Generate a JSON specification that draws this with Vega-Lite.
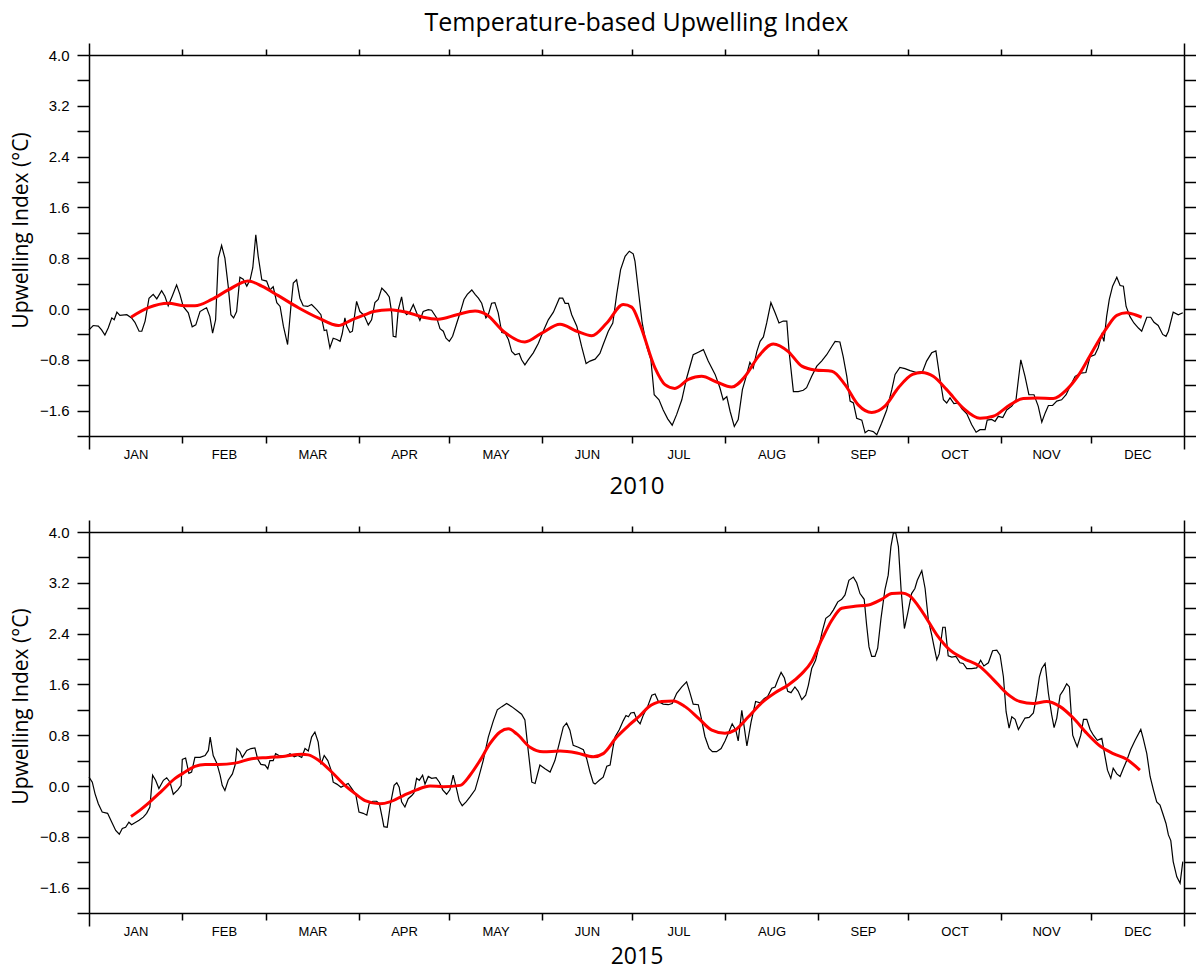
{
"$schema": "https://vega.github.io/schema/vega-lite/v6.json",
"background": "white",
"padding": {"left": 10, "top": 11, "right": 0, "bottom": 0},
"datasets": {
"raw2010": [{"d":0,"v":-0.33},{"d":1.4,"v":-0.26},{"d":3.1,"v":-0.27},{"d":4.2,"v":-0.33},{"d":5.3,"v":-0.41},{"d":6.4,"v":-0.3},{"d":7.6,"v":-0.14},{"d":8.4,"v":-0.17},{"d":9.3,"v":-0.05},{"d":10.3,"v":-0.1},{"d":12.6,"v":-0.09},{"d":14.2,"v":-0.14},{"d":15.3,"v":-0.21},{"d":16.7,"v":-0.35},{"d":17.6,"v":-0.35},{"d":18.7,"v":-0.19},{"d":20,"v":0.17},{"d":21.4,"v":0.23},{"d":22.6,"v":0.16},{"d":24.2,"v":0.29},{"d":25.3,"v":0.2},{"d":26.4,"v":0.05},{"d":27.8,"v":0.21},{"d":29.2,"v":0.38},{"d":30.3,"v":0.23},{"d":31.4,"v":0.04},{"d":33.1,"v":-0.06},{"d":34.4,"v":-0.28},{"d":35.6,"v":-0.25},{"d":37,"v":-0.04},{"d":38.4,"v":0},{"d":39.2,"v":0.02},{"d":40.3,"v":-0.12},{"d":41.2,"v":-0.38},{"d":42.2,"v":-0.17},{"d":43.1,"v":0.8},{"d":44.2,"v":1.0},{"d":45.3,"v":0.8},{"d":46.4,"v":0.36},{"d":47.3,"v":-0.09},{"d":48.2,"v":-0.14},{"d":49.2,"v":-0.04},{"d":50.3,"v":0.5},{"d":51.4,"v":0.47},{"d":52.6,"v":0.36},{"d":53.7,"v":0.46},{"d":54.6,"v":0.65},{"d":55.6,"v":1.17},{"d":56.4,"v":0.83},{"d":57.6,"v":0.46},{"d":59.2,"v":0.44},{"d":60.3,"v":0.3},{"d":61.4,"v":0.35},{"d":62.6,"v":0.1},{"d":63.7,"v":0.04},{"d":64.8,"v":-0.27},{"d":66.2,"v":-0.56},{"d":67.3,"v":0.04},{"d":68.1,"v":0.41},{"d":69.2,"v":0.46},{"d":70.3,"v":0.17},{"d":71.4,"v":0.05},{"d":72.9,"v":0.04},{"d":74.2,"v":0.07},{"d":75.9,"v":-0.01},{"d":77.3,"v":-0.09},{"d":78.4,"v":-0.34},{"d":79.2,"v":-0.33},{"d":80.3,"v":-0.61},{"d":81.4,"v":-0.46},{"d":82.6,"v":-0.48},{"d":83.7,"v":-0.51},{"d":84.4,"v":-0.39},{"d":85.3,"v":-0.14},{"d":85.9,"v":-0.27},{"d":87,"v":-0.37},{"d":87.8,"v":-0.35},{"d":89.2,"v":0.12},{"d":90.3,"v":-0.04},{"d":91.7,"v":-0.1},{"d":93.1,"v":-0.25},{"d":94.2,"v":-0.17},{"d":95.3,"v":0.1},{"d":96.4,"v":0.15},{"d":97.6,"v":0.33},{"d":99,"v":0.26},{"d":100.1,"v":0.19},{"d":100.9,"v":-0.06},{"d":101.4,"v":-0.43},{"d":102.3,"v":-0.44},{"d":103.1,"v":-0.01},{"d":104.2,"v":0.19},{"d":105,"v":-0.04},{"d":105.9,"v":-0.09},{"d":107,"v":-0.04},{"d":108.1,"v":0.07},{"d":109.2,"v":-0.06},{"d":110.3,"v":-0.18},{"d":111.4,"v":-0.04},{"d":113.1,"v":-0.01},{"d":114.2,"v":-0.02},{"d":115.9,"v":-0.14},{"d":117,"v":-0.31},{"d":118.1,"v":-0.35},{"d":119,"v":-0.46},{"d":120.1,"v":-0.51},{"d":121.2,"v":-0.43},{"d":122.6,"v":-0.22},{"d":123.7,"v":-0.06},{"d":125,"v":0.15},{"d":126.1,"v":0.23},{"d":127.6,"v":0.3},{"d":128.7,"v":0.23},{"d":129.8,"v":0.17},{"d":130.9,"v":0.09},{"d":132.3,"v":-0.14},{"d":133.1,"v":-0.09},{"d":134.2,"v":0.09},{"d":135.3,"v":0.1},{"d":136.4,"v":-0.06},{"d":137.6,"v":-0.37},{"d":138.7,"v":-0.38},{"d":139.8,"v":-0.48},{"d":140.9,"v":-0.67},{"d":142,"v":-0.72},{"d":143.4,"v":-0.7},{"d":144.2,"v":-0.8},{"d":145.3,"v":-0.88},{"d":146.4,"v":-0.8},{"d":148.1,"v":-0.69},{"d":149.8,"v":-0.54},{"d":151.4,"v":-0.35},{"d":153.1,"v":-0.17},{"d":154.8,"v":-0.05},{"d":155.9,"v":0.07},{"d":156.8,"v":0.17},{"d":157.9,"v":0.17},{"d":158.7,"v":0.09},{"d":159.8,"v":0.09},{"d":160.9,"v":-0.09},{"d":162.6,"v":-0.27},{"d":164.2,"v":-0.59},{"d":165.7,"v":-0.86},{"d":167,"v":-0.82},{"d":168.7,"v":-0.79},{"d":170.3,"v":-0.7},{"d":171.4,"v":-0.56},{"d":173.1,"v":-0.35},{"d":174.6,"v":-0.22},{"d":175.9,"v":0.23},{"d":177.2,"v":0.62},{"d":178.7,"v":0.83},{"d":180.1,"v":0.91},{"d":181.4,"v":0.87},{"d":182,"v":0.75},{"d":183.1,"v":0.3},{"d":184.4,"v":-0.22},{"d":185.9,"v":-0.59},{"d":187.3,"v":-0.8},{"d":188.4,"v":-1.35},{"d":190,"v":-1.43},{"d":191.4,"v":-1.59},{"d":192.9,"v":-1.73},{"d":194.4,"v":-1.83},{"d":195.9,"v":-1.66},{"d":197.6,"v":-1.43},{"d":199.2,"v":-1.09},{"d":201.4,"v":-0.72},{"d":203.1,"v":-0.68},{"d":204.8,"v":-0.64},{"d":206.4,"v":-0.82},{"d":208.7,"v":-1.03},{"d":210.3,"v":-1.24},{"d":211.4,"v":-1.43},{"d":212.6,"v":-1.38},{"d":213.7,"v":-1.61},{"d":215.1,"v":-1.85},{"d":216.4,"v":-1.74},{"d":217.8,"v":-1.27},{"d":218.9,"v":-1.09},{"d":220.3,"v":-0.84},{"d":221.4,"v":-0.93},{"d":222.6,"v":-0.67},{"d":223.7,"v":-0.51},{"d":224.8,"v":-0.44},{"d":225.9,"v":-0.22},{"d":227.3,"v":0.1},{"d":228.7,"v":-0.06},{"d":230,"v":-0.22},{"d":231.4,"v":-0.19},{"d":232.6,"v":-0.19},{"d":233.4,"v":-0.69},{"d":234.8,"v":-1.3},{"d":236.4,"v":-1.3},{"d":238.1,"v":-1.28},{"d":239.2,"v":-1.24},{"d":240.9,"v":-1.06},{"d":242.6,"v":-0.9},{"d":244.2,"v":-0.82},{"d":245.9,"v":-0.72},{"d":247.6,"v":-0.59},{"d":248.7,"v":-0.51},{"d":250.3,"v":-0.52},{"d":251.4,"v":-0.75},{"d":252.6,"v":-1.06},{"d":253.7,"v":-1.45},{"d":254.8,"v":-1.48},{"d":255.9,"v":-1.72},{"d":257.6,"v":-1.75},{"d":258.7,"v":-1.95},{"d":259.8,"v":-1.91},{"d":261.4,"v":-1.93},{"d":262.6,"v":-1.98},{"d":264.2,"v":-1.8},{"d":265.9,"v":-1.59},{"d":267.6,"v":-1.27},{"d":268.7,"v":-1.03},{"d":270.3,"v":-0.92},{"d":272,"v":-0.94},{"d":273.7,"v":-0.97},{"d":275.9,"v":-1.0},{"d":277.9,"v":-0.98},{"d":279.2,"v":-0.82},{"d":280.9,"v":-0.69},{"d":282.3,"v":-0.66},{"d":283.7,"v":-1.11},{"d":284.8,"v":-1.43},{"d":285.9,"v":-1.48},{"d":287,"v":-1.4},{"d":288.3,"v":-1.49},{"d":289.8,"v":-1.48},{"d":290.9,"v":-1.57},{"d":292.6,"v":-1.65},{"d":294.2,"v":-1.82},{"d":295.7,"v":-1.94},{"d":297,"v":-1.9},{"d":298.7,"v":-1.9},{"d":299.4,"v":-1.75},{"d":300.9,"v":-1.74},{"d":302,"v":-1.77},{"d":303.1,"v":-1.69},{"d":304.6,"v":-1.71},{"d":305.9,"v":-1.59},{"d":307.6,"v":-1.53},{"d":309,"v":-1.43},{"d":309.8,"v":-1.11},{"d":310.6,"v":-0.8},{"d":312,"v":-1.06},{"d":313.3,"v":-1.35},{"d":315,"v":-1.35},{"d":316.4,"v":-1.53},{"d":317.6,"v":-1.78},{"d":318.7,"v":-1.64},{"d":319.8,"v":-1.52},{"d":321.2,"v":-1.52},{"d":322.6,"v":-1.45},{"d":324.2,"v":-1.43},{"d":325.7,"v":-1.35},{"d":327,"v":-1.22},{"d":328.7,"v":-1.06},{"d":330.6,"v":-1.01},{"d":332.3,"v":-1.0},{"d":333.7,"v":-0.75},{"d":335.3,"v":-0.72},{"d":336.4,"v":-0.61},{"d":337.6,"v":-0.4},{"d":338.3,"v":-0.51},{"d":339.2,"v":-0.12},{"d":340.1,"v":0.15},{"d":341.2,"v":0.36},{"d":342.6,"v":0.5},{"d":343.7,"v":0.37},{"d":344.8,"v":0.36},{"d":345.7,"v":0.04},{"d":347,"v":-0.12},{"d":348.3,"v":-0.22},{"d":349.8,"v":-0.3},{"d":350.9,"v":-0.35},{"d":352.6,"v":-0.13},{"d":353.9,"v":-0.13},{"d":355,"v":-0.21},{"d":356.4,"v":-0.26},{"d":357.9,"v":-0.4},{"d":359,"v":-0.43},{"d":359.8,"v":-0.35},{"d":361.4,"v":-0.05},{"d":363.1,"v":-0.09},{"d":364.6,"v":-0.06}],
"smooth2010": [{"d":14,"v":-0.13},{"d":19.8,"v":0.02},{"d":26.4,"v":0.09},{"d":32,"v":0.05},{"d":35.3,"v":0.05},{"d":40.9,"v":0.15},{"d":46.4,"v":0.3},{"d":53,"v":0.44},{"d":57.6,"v":0.36},{"d":63.1,"v":0.21},{"d":69.8,"v":0.02},{"d":76.4,"v":-0.14},{"d":83.1,"v":-0.26},{"d":87.6,"v":-0.17},{"d":92,"v":-0.09},{"d":94.8,"v":-0.04},{"d":100.3,"v":-0.01},{"d":105.9,"v":-0.05},{"d":111.4,"v":-0.13},{"d":116.4,"v":-0.16},{"d":122.6,"v":-0.09},{"d":128.7,"v":-0.03},{"d":132.6,"v":-0.09},{"d":138.1,"v":-0.35},{"d":145.3,"v":-0.52},{"d":150.9,"v":-0.38},{"d":157,"v":-0.24},{"d":162.6,"v":-0.35},{"d":167.6,"v":-0.42},{"d":172.6,"v":-0.22},{"d":178.1,"v":0.07},{"d":180.9,"v":0.03},{"d":183.7,"v":-0.25},{"d":188.7,"v":-0.93},{"d":192,"v":-1.19},{"d":195.3,"v":-1.25},{"d":199.8,"v":-1.11},{"d":204.2,"v":-1.06},{"d":209.2,"v":-1.15},{"d":214.2,"v":-1.23},{"d":218.7,"v":-1.06},{"d":223.1,"v":-0.75},{"d":228.1,"v":-0.55},{"d":233.1,"v":-0.67},{"d":237.6,"v":-0.9},{"d":242,"v":-0.96},{"d":247.6,"v":-0.98},{"d":252,"v":-1.19},{"d":256.4,"v":-1.51},{"d":260.9,"v":-1.63},{"d":265.3,"v":-1.53},{"d":269.8,"v":-1.24},{"d":274.5,"v":-1.03},{"d":277.6,"v":-1.0},{"d":281.4,"v":-1.06},{"d":285.9,"v":-1.27},{"d":291.4,"v":-1.56},{"d":297,"v":-1.72},{"d":301.4,"v":-1.69},{"d":307,"v":-1.51},{"d":311.4,"v":-1.41},{"d":315.9,"v":-1.4},{"d":321.4,"v":-1.41},{"d":325.9,"v":-1.27},{"d":330.3,"v":-1.01},{"d":334.8,"v":-0.64},{"d":339.2,"v":-0.3},{"d":342.6,"v":-0.1},{"d":345.9,"v":-0.06},{"d":348.7,"v":-0.09},{"d":350.9,"v":-0.13}],
"raw2015": [{"d":0,"v":0.14},{"d":1.1,"v":0.06},{"d":2,"v":-0.12},{"d":3.1,"v":-0.28},{"d":4.4,"v":-0.41},{"d":6.2,"v":-0.43},{"d":7.6,"v":-0.57},{"d":8.9,"v":-0.7},{"d":10.1,"v":-0.76},{"d":11.1,"v":-0.67},{"d":12.2,"v":-0.65},{"d":13.3,"v":-0.57},{"d":14.2,"v":-0.61},{"d":15.3,"v":-0.58},{"d":16.7,"v":-0.54},{"d":18.1,"v":-0.49},{"d":19.2,"v":-0.43},{"d":20.3,"v":-0.33},{"d":21.2,"v":0.17},{"d":22.2,"v":0.09},{"d":23.3,"v":-0.04},{"d":24.8,"v":0.09},{"d":25.9,"v":0.13},{"d":27,"v":0.06},{"d":28.1,"v":-0.13},{"d":29.6,"v":-0.06},{"d":30.7,"v":0.01},{"d":31.1,"v":0.42},{"d":32.2,"v":0.44},{"d":33.3,"v":0.2},{"d":34.2,"v":0.22},{"d":35.3,"v":0.45},{"d":37,"v":0.45},{"d":38.7,"v":0.48},{"d":39.8,"v":0.56},{"d":40.4,"v":0.77},{"d":41.4,"v":0.48},{"d":42.6,"v":0.36},{"d":43.7,"v":0.17},{"d":44.4,"v":0.01},{"d":45.3,"v":-0.07},{"d":46.4,"v":0.09},{"d":47.8,"v":0.19},{"d":48.7,"v":0.33},{"d":49.3,"v":0.59},{"d":50.3,"v":0.54},{"d":51.1,"v":0.45},{"d":52.6,"v":0.56},{"d":54,"v":0.59},{"d":55.3,"v":0.6},{"d":56.2,"v":0.43},{"d":57.3,"v":0.34},{"d":58.7,"v":0.33},{"d":59.6,"v":0.27},{"d":60.3,"v":0.4},{"d":61.4,"v":0.4},{"d":62.2,"v":0.51},{"d":63.3,"v":0.48},{"d":64.8,"v":0.47},{"d":65.9,"v":0.48},{"d":67,"v":0.51},{"d":68.4,"v":0.46},{"d":69.6,"v":0.48},{"d":70.9,"v":0.45},{"d":72,"v":0.59},{"d":73.1,"v":0.55},{"d":74.2,"v":0.77},{"d":75.3,"v":0.85},{"d":76.4,"v":0.69},{"d":77.3,"v":0.34},{"d":78.4,"v":0.48},{"d":79.6,"v":0.4},{"d":80.7,"v":0.25},{"d":81.4,"v":0.06},{"d":82.6,"v":0.03},{"d":84,"v":-0.02},{"d":85.1,"v":0.01},{"d":86.4,"v":0.04},{"d":87.6,"v":-0.04},{"d":88.9,"v":-0.13},{"d":90,"v":-0.41},{"d":91.4,"v":-0.43},{"d":92.6,"v":-0.46},{"d":93.4,"v":-0.28},{"d":94.6,"v":-0.24},{"d":95.9,"v":-0.24},{"d":96.8,"v":-0.28},{"d":97.7,"v":-0.49},{"d":98.3,"v":-0.64},{"d":99.4,"v":-0.65},{"d":100.5,"v":-0.28},{"d":101.7,"v":0.01},{"d":102.6,"v":0.05},{"d":103.4,"v":-0.02},{"d":104.2,"v":-0.25},{"d":105.3,"v":-0.33},{"d":106.4,"v":-0.2},{"d":107.6,"v":-0.15},{"d":108.3,"v":-0.11},{"d":109.2,"v":0.12},{"d":110.1,"v":0.09},{"d":111.2,"v":0.17},{"d":112,"v":0.03},{"d":113.1,"v":0.15},{"d":114.2,"v":0.12},{"d":115.7,"v":0.13},{"d":116.8,"v":0.06},{"d":117.9,"v":-0.06},{"d":119.2,"v":-0.13},{"d":120.3,"v":-0.06},{"d":121.4,"v":0.17},{"d":122.6,"v":-0.06},{"d":123.4,"v":-0.23},{"d":124.4,"v":-0.31},{"d":125.7,"v":-0.25},{"d":127,"v":-0.17},{"d":128.7,"v":-0.06},{"d":130.1,"v":0.17},{"d":131.4,"v":0.4},{"d":133.1,"v":0.77},{"d":134.8,"v":1.03},{"d":136.1,"v":1.2},{"d":137.6,"v":1.25},{"d":139.2,"v":1.3},{"d":140.9,"v":1.25},{"d":142.6,"v":1.19},{"d":144.2,"v":1.13},{"d":145.3,"v":1.04},{"d":146.4,"v":0.56},{"d":147.6,"v":0.06},{"d":148.7,"v":0.04},{"d":150.3,"v":0.33},{"d":152,"v":0.27},{"d":153.7,"v":0.22},{"d":155.3,"v":0.4},{"d":156.8,"v":0.68},{"d":158.1,"v":0.93},{"d":159.2,"v":0.99},{"d":160.3,"v":0.88},{"d":161.4,"v":0.64},{"d":163.1,"v":0.61},{"d":164.8,"v":0.57},{"d":165.9,"v":0.43},{"d":167,"v":0.22},{"d":168.1,"v":0.05},{"d":168.7,"v":0.03},{"d":170.1,"v":0.09},{"d":171.4,"v":0.14},{"d":172.6,"v":0.31},{"d":173.7,"v":0.33},{"d":174.6,"v":0.59},{"d":175.3,"v":0.77},{"d":176.8,"v":0.89},{"d":178.1,"v":1.03},{"d":179,"v":1.11},{"d":179.8,"v":1.09},{"d":180.6,"v":1.15},{"d":181.7,"v":1.16},{"d":182.8,"v":1.03},{"d":183.7,"v":0.98},{"d":184.8,"v":1.12},{"d":186.2,"v":1.25},{"d":187.6,"v":1.43},{"d":188.7,"v":1.45},{"d":189.8,"v":1.33},{"d":191.4,"v":1.29},{"d":193.1,"v":1.28},{"d":194.4,"v":1.3},{"d":195.9,"v":1.46},{"d":197.6,"v":1.56},{"d":199.2,"v":1.64},{"d":200.3,"v":1.47},{"d":201.4,"v":1.29},{"d":203.1,"v":1.28},{"d":204,"v":1.09},{"d":205.3,"v":0.78},{"d":206.7,"v":0.59},{"d":207.8,"v":0.54},{"d":209.2,"v":0.54},{"d":210.7,"v":0.59},{"d":212,"v":0.71},{"d":213.1,"v":0.83},{"d":214.4,"v":0.98},{"d":215.6,"v":0.88},{"d":216.4,"v":0.71},{"d":217.6,"v":1.19},{"d":218.4,"v":0.93},{"d":219.3,"v":0.63},{"d":220.7,"v":1.01},{"d":222.2,"v":1.33},{"d":223.7,"v":1.31},{"d":225.1,"v":1.38},{"d":226.2,"v":1.41},{"d":227.6,"v":1.54},{"d":228.7,"v":1.56},{"d":229.6,"v":1.67},{"d":230.7,"v":1.79},{"d":231.8,"v":1.7},{"d":232.9,"v":1.49},{"d":234,"v":1.47},{"d":235.3,"v":1.56},{"d":236.4,"v":1.49},{"d":237.6,"v":1.36},{"d":238.9,"v":1.43},{"d":239.8,"v":1.59},{"d":240.9,"v":1.85},{"d":242.2,"v":1.98},{"d":243.3,"v":2.19},{"d":244.4,"v":2.43},{"d":245.6,"v":2.64},{"d":247,"v":2.69},{"d":248.1,"v":2.77},{"d":249.6,"v":2.9},{"d":250.9,"v":2.94},{"d":252,"v":3.01},{"d":253.3,"v":3.24},{"d":254.8,"v":3.29},{"d":255.9,"v":3.2},{"d":257,"v":3.03},{"d":258.4,"v":2.94},{"d":259.2,"v":2.54},{"d":260,"v":2.19},{"d":260.9,"v":2.04},{"d":262,"v":2.04},{"d":262.9,"v":2.17},{"d":264,"v":2.64},{"d":265.3,"v":3.09},{"d":266.4,"v":3.32},{"d":267.3,"v":3.77},{"d":268.1,"v":3.98},{"d":268.9,"v":3.99},{"d":269.8,"v":3.77},{"d":270.7,"v":3.09},{"d":271.8,"v":2.48},{"d":272.9,"v":2.72},{"d":274.2,"v":3.03},{"d":275.3,"v":3.11},{"d":276.1,"v":3.24},{"d":277.6,"v":3.39},{"d":278.7,"v":3.11},{"d":279.8,"v":2.61},{"d":280.9,"v":2.38},{"d":281.7,"v":2.19},{"d":282.6,"v":1.99},{"d":283.4,"v":2.08},{"d":284.6,"v":2.5},{"d":285.4,"v":2.5},{"d":286.4,"v":2.05},{"d":287.6,"v":2.03},{"d":289,"v":2.04},{"d":290.3,"v":1.94},{"d":291.4,"v":1.93},{"d":292.6,"v":1.85},{"d":294.2,"v":1.85},{"d":295.9,"v":1.86},{"d":297.2,"v":1.98},{"d":298.3,"v":1.89},{"d":299.8,"v":1.94},{"d":301.2,"v":2.13},{"d":302.6,"v":2.14},{"d":303.7,"v":2.06},{"d":304.8,"v":1.72},{"d":305.7,"v":1.17},{"d":306.7,"v":0.91},{"d":307.6,"v":1.09},{"d":308.7,"v":1.05},{"d":309.8,"v":0.89},{"d":310.9,"v":0.98},{"d":312,"v":1.07},{"d":313.4,"v":1.08},{"d":314.8,"v":1.15},{"d":315.9,"v":1.43},{"d":316.8,"v":1.72},{"d":317.6,"v":1.85},{"d":318.7,"v":1.93},{"d":319.8,"v":1.46},{"d":320.9,"v":1.12},{"d":321.7,"v":0.92},{"d":322.6,"v":1.07},{"d":323.7,"v":1.43},{"d":324.8,"v":1.51},{"d":325.9,"v":1.61},{"d":326.8,"v":1.56},{"d":327.9,"v":0.8},{"d":328.7,"v":0.7},{"d":329.4,"v":0.62},{"d":330.6,"v":0.8},{"d":331.5,"v":1.05},{"d":332.6,"v":1.05},{"d":333.7,"v":0.89},{"d":334.8,"v":0.8},{"d":336.1,"v":0.72},{"d":337.6,"v":0.75},{"d":338.7,"v":0.46},{"d":339.5,"v":0.25},{"d":340.6,"v":0.12},{"d":341.4,"v":0.28},{"d":342.6,"v":0.19},{"d":343.7,"v":0.15},{"d":344.8,"v":0.28},{"d":345.9,"v":0.4},{"d":347.2,"v":0.57},{"d":348.7,"v":0.72},{"d":350.6,"v":0.89},{"d":351.4,"v":0.75},{"d":352.6,"v":0.51},{"d":353.7,"v":0.15},{"d":354.8,"v":-0.06},{"d":355.9,"v":-0.25},{"d":357,"v":-0.3},{"d":357.9,"v":-0.43},{"d":359,"v":-0.59},{"d":359.8,"v":-0.77},{"d":360.6,"v":-0.86},{"d":361.4,"v":-1.19},{"d":362.6,"v":-1.43},{"d":363.7,"v":-1.53},{"d":364.6,"v":-1.19}],
"smooth2015": [{"d":14,"v":-0.48},{"d":17,"v":-0.38},{"d":20.3,"v":-0.25},{"d":24.2,"v":-0.08},{"d":28.7,"v":0.12},{"d":32,"v":0.22},{"d":35.3,"v":0.31},{"d":38.7,"v":0.34},{"d":43.1,"v":0.34},{"d":48.7,"v":0.36},{"d":54.2,"v":0.43},{"d":59.8,"v":0.45},{"d":65.3,"v":0.47},{"d":70.9,"v":0.5},{"d":73.1,"v":0.49},{"d":76.4,"v":0.41},{"d":80.9,"v":0.22},{"d":85.3,"v":0.01},{"d":88.7,"v":-0.12},{"d":92,"v":-0.23},{"d":97,"v":-0.28},{"d":100.3,"v":-0.25},{"d":104.8,"v":-0.15},{"d":109.2,"v":-0.06},{"d":113.7,"v":0},{"d":118.1,"v":-0.01},{"d":123.7,"v":0.01},{"d":127,"v":0.17},{"d":130.3,"v":0.4},{"d":133.7,"v":0.67},{"d":137,"v":0.85},{"d":139.8,"v":0.9},{"d":142.6,"v":0.82},{"d":147,"v":0.61},{"d":151.4,"v":0.54},{"d":157,"v":0.55},{"d":162.6,"v":0.52},{"d":168.1,"v":0.46},{"d":171.4,"v":0.51},{"d":175.9,"v":0.77},{"d":180.3,"v":0.97},{"d":183.7,"v":1.11},{"d":186.4,"v":1.24},{"d":190.9,"v":1.33},{"d":194.8,"v":1.34},{"d":198.7,"v":1.25},{"d":203.1,"v":1.07},{"d":207.6,"v":0.88},{"d":212,"v":0.83},{"d":215.3,"v":0.88},{"d":219.8,"v":1.09},{"d":224.2,"v":1.31},{"d":228.7,"v":1.47},{"d":233.1,"v":1.59},{"d":237.6,"v":1.77},{"d":240.9,"v":1.96},{"d":244.2,"v":2.3},{"d":247.6,"v":2.61},{"d":250.9,"v":2.8},{"d":255.3,"v":2.83},{"d":259.8,"v":2.85},{"d":264.2,"v":2.94},{"d":267.6,"v":3.03},{"d":270.9,"v":3.04},{"d":273.4,"v":3.0},{"d":278.1,"v":2.72},{"d":282.6,"v":2.38},{"d":287,"v":2.14},{"d":291.4,"v":2.01},{"d":297,"v":1.88},{"d":301.4,"v":1.68},{"d":305.9,"v":1.46},{"d":310.3,"v":1.33},{"d":314.8,"v":1.3},{"d":319.2,"v":1.33},{"d":323.7,"v":1.25},{"d":328.1,"v":1.07},{"d":332.6,"v":0.83},{"d":337,"v":0.63},{"d":341.4,"v":0.51},{"d":345.9,"v":0.42},{"d":350.3,"v":0.25}]
},
"spacing": 96,
"bounds": "flush",
"config": {
  "view": {"stroke": null},
  "axis": {"domainColor": "black", "tickColor": "black", "labelColor": "black", "titleColor": "black", "domainWidth": 1.5, "tickWidth": 1.5, "grid": false, "labelFont": "Liberation Sans", "labelFontSize": 15, "titleFont": "Open Sans", "titleFontWeight": "normal"}
},
"vconcat": [
{
  "width": 1095, "height": 381,
  "title": {"text": "Temperature-based Upwelling Index", "anchor": "middle", "frame": "group", "font": "Open Sans", "fontSize": 25, "fontWeight": "normal", "color": "black", "offset": 6},
  "resolve": {"axis": {"x": "independent", "y": "independent"}},
  "layer": [
    {"data": {"name": "raw2010"}, "mark": {"type": "line", "color": "black", "strokeWidth": 1.2},
     "encoding": {
       "x": {"field": "d", "type": "quantitative", "scale": {"domain": [0, 365], "nice": false, "zero": false},
             "axis": {"orient": "bottom", "values": [0,31,59,90,120,151,181,212,243,273,304,334,365], "labels": false, "title": null, "tickSize": {"condition": {"test": "datum.value == 0 || datum.value == 365", "value": 13}, "value": 7}}},
       "y": {"field": "v", "type": "quantitative", "scale": {"domain": [-2, 4], "nice": false, "zero": false},
             "axis": {"orient": "left", "values": [-2,-1.6,-1.2,-0.8,-0.4,0,0.4,0.8,1.2,1.6,2,2.4,2.8,3.2,3.6,4], "tickSize": 12, "labelPadding": 8, "labelExpr": "abs(datum.value/0.8 - round(datum.value/0.8)) < 0.01 ? format(datum.value, '.1f') : ''", "title": "Upwelling Index (°C)", "titleFontSize": 21, "titlePadding": 8, "titleY": 175}}
     }},
    {"data": {"name": "smooth2010"}, "mark": {"type": "line", "color": "#ff0000", "strokeWidth": 3, "interpolate": "monotone"},
     "encoding": {
       "x": {"field": "d", "type": "quantitative",
             "axis": {"orient": "top", "values": [0,31,59,90,120,151,181,212,243,273,304,334,365], "labels": false, "title": null, "tickSize": {"condition": {"test": "datum.value == 0 || datum.value == 365", "value": 12}, "value": 6}}},
       "y": {"field": "v", "type": "quantitative",
             "axis": {"orient": "right", "values": [-2,-1.6,-1.2,-0.8,-0.4,0,0.4,0.8,1.2,1.6,2,2.4,2.8,3.2,3.6,4], "tickSize": 12, "labels": false, "title": null}}
     }},
    {"mark": {"type": "rule", "color": "black", "strokeWidth": 1},
     "encoding": {
       "x": {"datum": 0, "type": "quantitative",
             "axis": {"orient": "bottom", "values": [15.5,45,74.5,105,135.5,166,196.5,227.5,258,288.5,319,349.5], "ticks": false, "domain": false, "labelFontSize": 13, "labelPadding": 12, "labelExpr": "['JAN','FEB','MAR','APR','MAY','JUN','JUL','AUG','SEP','OCT','NOV','DEC'][floor(datum.value/30.44)]", "title": "2010", "titleFontSize": 24, "titlePadding": 13}},
       "x2": {"datum": 365},
       "y": {"datum": 0, "type": "quantitative", "axis": null}
     }},
    {"mark": {"type": "text", "text": "a)", "font": "Open Sans", "fontSize": 24, "align": "center", "baseline": "middle", "color": "black"},
     "encoding": {
       "x": {"datum": 15.3, "type": "quantitative", "axis": null},
       "y": {"datum": 3.5, "type": "quantitative", "axis": null}
     }}
  ]
},
{
  "width": 1095, "height": 381,
  "resolve": {"axis": {"x": "independent", "y": "independent"}},
  "layer": [
    {"data": {"name": "raw2015"}, "mark": {"type": "line", "color": "black", "strokeWidth": 1.2},
     "encoding": {
       "x": {"field": "d", "type": "quantitative", "scale": {"domain": [0, 365], "nice": false, "zero": false},
             "axis": {"orient": "bottom", "values": [0,31,59,90,120,151,181,212,243,273,304,334,365], "labels": false, "title": null, "tickSize": {"condition": {"test": "datum.value == 0 || datum.value == 365", "value": 13}, "value": 7}}},
       "y": {"field": "v", "type": "quantitative", "scale": {"domain": [-2, 4], "nice": false, "zero": false},
             "axis": {"orient": "left", "values": [-2,-1.6,-1.2,-0.8,-0.4,0,0.4,0.8,1.2,1.6,2,2.4,2.8,3.2,3.6,4], "tickSize": 12, "labelPadding": 8, "labelExpr": "abs(datum.value/0.8 - round(datum.value/0.8)) < 0.01 ? format(datum.value, '.1f') : ''", "title": "Upwelling Index (°C)", "titleFontSize": 21, "titlePadding": 8, "titleY": 174}}
     }},
    {"data": {"name": "smooth2015"}, "mark": {"type": "line", "color": "#ff0000", "strokeWidth": 3, "interpolate": "monotone"},
     "encoding": {
       "x": {"field": "d", "type": "quantitative",
             "axis": {"orient": "top", "values": [0,31,59,90,120,151,181,212,243,273,304,334,365], "labels": false, "title": null, "tickSize": {"condition": {"test": "datum.value == 0 || datum.value == 365", "value": 12}, "value": 6}}},
       "y": {"field": "v", "type": "quantitative",
             "axis": {"orient": "right", "values": [-2,-1.6,-1.2,-0.8,-0.4,0,0.4,0.8,1.2,1.6,2,2.4,2.8,3.2,3.6,4], "tickSize": 12, "labels": false, "title": null}}
     }},
    {"mark": {"type": "rule", "color": "black", "strokeWidth": 1},
     "encoding": {
       "x": {"datum": 0, "type": "quantitative",
             "axis": {"orient": "bottom", "values": [15.5,45,74.5,105,135.5,166,196.5,227.5,258,288.5,319,349.5], "ticks": false, "domain": false, "labelFontSize": 13, "labelPadding": 12, "labelExpr": "['JAN','FEB','MAR','APR','MAY','JUN','JUL','AUG','SEP','OCT','NOV','DEC'][floor(datum.value/30.44)]", "title": "2015", "titleFontSize": 23, "titlePadding": 7}},
       "x2": {"datum": 365},
       "y": {"datum": 0, "type": "quantitative", "axis": null}
     }},
    {"mark": {"type": "text", "text": "b)", "font": "Open Sans", "fontSize": 24, "align": "center", "baseline": "middle", "color": "black"},
     "encoding": {
       "x": {"datum": 15.3, "type": "quantitative", "axis": null},
       "y": {"datum": 3.5, "type": "quantitative", "axis": null}
     }}
  ]
}
]
}
